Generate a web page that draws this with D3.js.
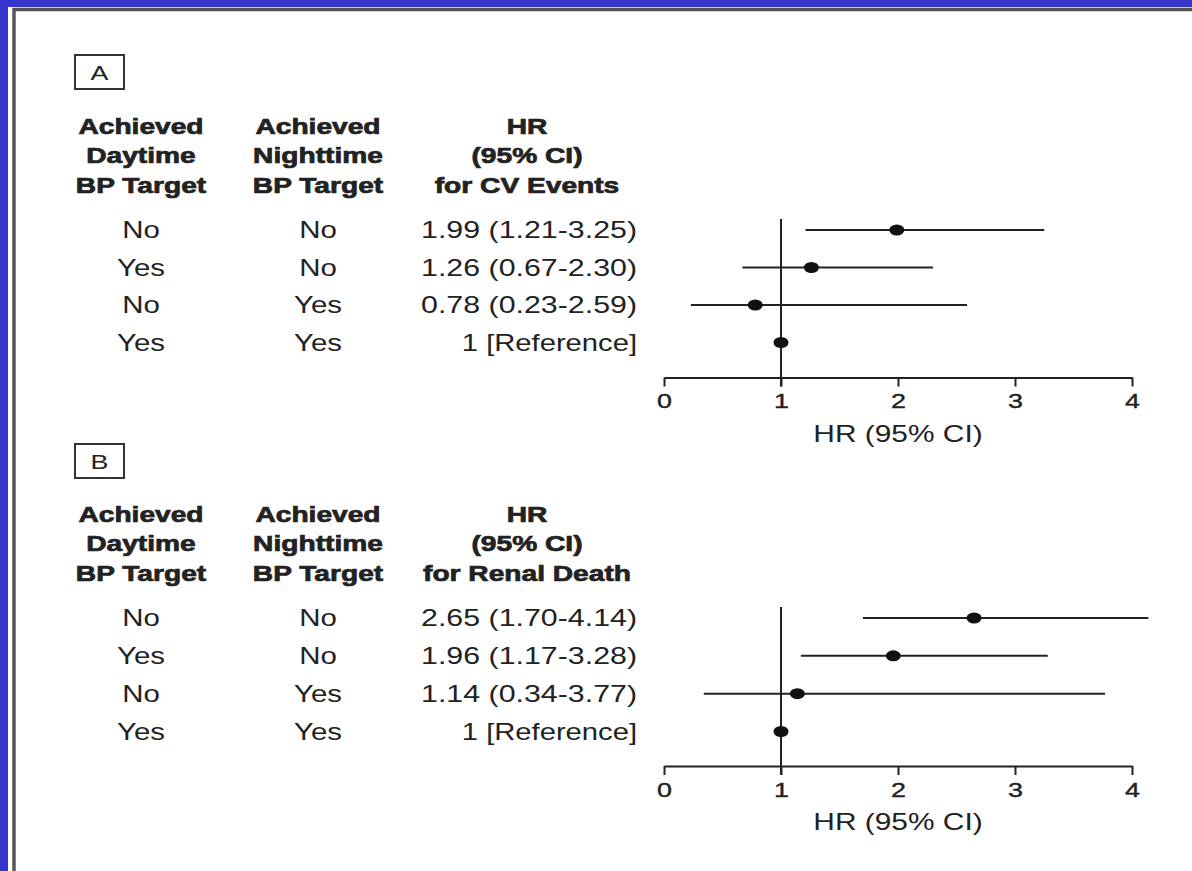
<!DOCTYPE html>
<html>
<head>
<meta charset="utf-8">
<script src="https://cdn.jsdelivr.net/npm/d3@7"></script>
<style>
  html, body { margin: 0; padding: 0; background: #3535cc; }
  svg { display: block; }
  text { font-family: "Liberation Sans", Arial, Helvetica, sans-serif; fill: #222; }
</style>
</head>
<body>
<svg id="chart" width="1192" height="871"></svg>
<script>
// Row labels shared by both panels
const daytimeTarget = ["No", "Yes", "No", "Yes"];
const nighttimeTarget = ["No", "No", "Yes", "Yes"];

// Panel A: cardiovascular events
const cvHR = [1.99, 1.26, 0.78, 1];
const cvLow = [1.21, 0.67, 0.23, null];
const cvHigh = [3.25, 2.30, 2.59, null];
const cvLabels = ["1.99 (1.21-3.25)", "1.26 (0.67-2.30)", "0.78 (0.23-2.59)", "1 [Reference]"];

// Panel B: renal death
const renalHR = [2.65, 1.96, 1.14, 1];
const renalLow = [1.70, 1.17, 0.34, null];
const renalHigh = [4.14, 3.28, 3.77, null];
const renalLabels = ["2.65 (1.70-4.14)", "1.96 (1.17-3.28)", "1.14 (0.34-3.77)", "1 [Reference]"];

const xTicks = [0, 1, 2, 3, 4];
const axisTitle = "HR (95% CI)";

const svg = d3.select("#chart");
const SX = 1.28; // horizontal stretch of the lettering

// white sheet with its dark edge
svg.append("rect").attr("x", 8).attr("y", 7).attr("width", 1300).attr("height", 1000).attr("fill", "#fff");
svg.append("rect").attr("x", 14).attr("y", 9.5).attr("width", 1300).attr("height", 1000)
  .attr("fill", "none").attr("stroke", "#555").attr("stroke-width", 3.5);

const x = d3.scaleLinear().domain([0, 4]).range([664, 1132]);

function label(g, str, cx, cy, opts) {
  const o = Object.assign({ size: 23, weight: "normal", anchor: "middle", sx: SX, heavy: false }, opts || {});
  const t = g.append("text")
    .attr("transform", `translate(${cx},${cy + o.size * 0.36}) scale(${o.sx},1)`)
    .attr("text-anchor", o.anchor)
    .attr("font-size", o.size)
    .attr("font-weight", o.weight)
    .text(str);
  if (o.heavy) t.attr("stroke", "#222").attr("stroke-width", 0.7);
  return t;
}

function panel(cfg) {
  const g = svg.append("g");
  // panel letter box
  g.append("rect").attr("x", 75).attr("y", cfg.top).attr("width", 49).attr("height", 34)
    .attr("fill", "none").attr("stroke", "#333").attr("stroke-width", 2);
  label(g, cfg.letter, 99.5, cfg.top + 17, { size: 21 });

  // column headers
  const hy = cfg.headY;
  const heads = [
    [141, ["Achieved", "Daytime", "BP Target"]],
    [318, ["Achieved", "Nighttime", "BP Target"]],
    [527, ["HR", "(95% CI)", cfg.outcome]]
  ];
  heads.forEach(([cx, lines]) => {
    lines.forEach((t, i) => label(g, t, cx, hy + i * 29.5, { size: 22, weight: "bold", sx: 1.28, heavy: true }));
  });

  // row text
  const y = d3.scalePoint().domain(d3.range(4)).range([cfg.rowTop, cfg.rowBottom]);
  d3.range(4).forEach(i => {
    label(g, daytimeTarget[i], 141, y(i));
    label(g, nighttimeTarget[i], 318, y(i));
    label(g, cfg.labels[i], 637, y(i), { anchor: "end", sx: i === 3 ? 1.27 : 1.32 });
  });

  // axis
  const axisG = g.append("g").attr("transform", `translate(0,${cfg.axisY})`)
    .call(d3.axisBottom(x).tickValues(xTicks).tickFormat(d3.format("d")).tickSize(9).tickSizeOuter(0).tickPadding(7));
  axisG.select(".domain").attr("stroke", "#222").attr("stroke-width", 2);
  axisG.selectAll(".tick line").attr("stroke", "#222").attr("stroke-width", 2);
  axisG.selectAll(".tick text")
    .attr("font-size", 21).attr("font-family", "Liberation Sans, Arial, sans-serif")
    .attr("fill", "#222").attr("stroke", "#222").attr("stroke-width", 0.4)
    .attr("transform", `scale(${SX},1)`);
  label(g, axisTitle, x(2), cfg.axisY + 56, { size: 23, sx: 1.3 });

  // reference line at HR = 1
  g.append("line").attr("x1", x(1)).attr("x2", x(1))
    .attr("y1", cfg.rowTop - 11).attr("y2", cfg.axisY + 9)
    .attr("stroke", "#222").attr("stroke-width", 2);

  // confidence intervals
  d3.range(4).filter(i => cfg.low[i] != null).forEach(i => {
    g.append("line").attr("x1", x(cfg.low[i])).attr("x2", x(cfg.high[i]))
      .attr("y1", y(i)).attr("y2", y(i))
      .attr("stroke", "#222").attr("stroke-width", 2);
  });
  // point estimates
  g.selectAll("ellipse.pt").data(cfg.hr).join("ellipse")
    .attr("cx", d => x(d)).attr("cy", (d, i) => y(i))
    .attr("rx", 7.5).attr("ry", 5.5).attr("fill", "#111");
}

panel({ letter: "A", top: 55, headY: 126, outcome: "for CV Events",
  rowTop: 230, rowBottom: 342.5, axisY: 377.5,
  hr: cvHR, low: cvLow, high: cvHigh, labels: cvLabels });

panel({ letter: "B", top: 444, headY: 514, outcome: "for Renal Death",
  rowTop: 618, rowBottom: 731.5, axisY: 766,
  hr: renalHR, low: renalLow, high: renalHigh, labels: renalLabels });
</script>
</body>
</html>
